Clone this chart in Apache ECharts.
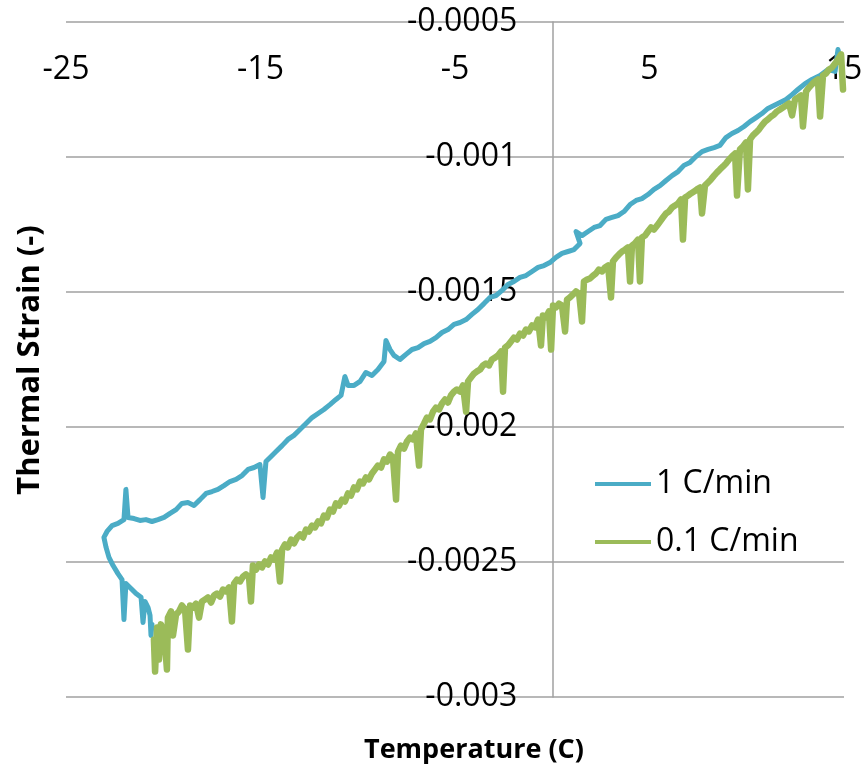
<!DOCTYPE html>
<html>
<head>
<meta charset="utf-8">
<script src="https://cdn.jsdelivr.net/npm/echarts@6/dist/echarts.min.js"></script>
<style>html,body{margin:0;padding:0;background:#fff}#chart{width:865px;height:774px}</style>
</head>
<body>
<div id="chart"></div>
<script>
// ---- data ----
var seriesNames = ['1 C/min', '0.1 C/min'];
var xTickValues = [-25, -15, -5, 5, 15];
var yTickValues = [-0.003, -0.0025, -0.002, -0.0015, -0.001, -0.0005];

var blueTemp = [14.85,14.69,14.54,14.18,13.77,13.35,13.00,12.63,12.33,12.02,11.71,11.40,11.09,10.78,10.48,10.17,9.86,9.55,9.24,8.93,8.62,8.32,8.01,7.70,7.39,7.08,6.77,6.47,6.16,5.85,5.54,5.23,4.92,4.61,4.31,4.00,3.69,3.38,3.07,2.76,2.46,2.15,1.84,1.53,1.22,1.43,1.12,0.81,0.50,0.19,-0.12,-0.42,-0.73,-1.04,-1.35,-1.66,-1.97,-2.28,-2.58,-2.89,-3.20,-3.51,-3.82,-4.13,-4.43,-4.74,-5.05,-5.36,-5.67,-5.98,-6.29,-6.59,-6.90,-7.21,-7.52,-7.83,-8.14,-8.34,-8.55,-8.65,-8.96,-9.27,-9.58,-9.88,-10.19,-10.50,-10.66,-10.86,-11.12,-11.43,-11.74,-12.04,-12.35,-12.66,-12.97,-13.28,-13.59,-13.89,-14.20,-14.51,-14.72,-14.87,-15.03,-15.33,-15.64,-15.95,-16.26,-16.57,-16.88,-17.19,-17.49,-17.80,-18.11,-18.42,-18.73,-19.04,-19.34,-19.65,-19.96,-20.27,-20.58,-20.89,-21.20,-21.50,-21.81,-21.92,-22.02,-22.33,-22.63,-22.89,-23.05,-22.94,-22.79,-22.58,-22.33,-22.12,-22.02,-21.92,-21.66,-21.40,-21.14,-21.04,-20.94,-20.78,-20.68,-20.63,-20.58];
var blueStrain = [-0.000646,-0.000602,-0.000683,-0.000676,-0.000698,-0.000713,-0.000728,-0.000750,-0.000769,-0.000787,-0.000798,-0.000809,-0.000820,-0.000839,-0.000854,-0.000869,-0.000887,-0.000902,-0.000913,-0.000928,-0.000957,-0.000965,-0.000972,-0.000980,-0.000998,-0.001020,-0.001031,-0.001054,-0.001069,-0.001087,-0.001106,-0.001120,-0.001139,-0.001154,-0.001161,-0.001176,-0.001202,-0.001217,-0.001224,-0.001231,-0.001254,-0.001261,-0.001276,-0.001291,-0.001276,-0.001320,-0.001343,-0.001350,-0.001357,-0.001372,-0.001391,-0.001402,-0.001409,-0.001424,-0.001439,-0.001446,-0.001461,-0.001472,-0.001494,-0.001513,-0.001520,-0.001543,-0.001565,-0.001583,-0.001602,-0.001613,-0.001620,-0.001639,-0.001650,-0.001669,-0.001683,-0.001691,-0.001706,-0.001713,-0.001731,-0.001750,-0.001735,-0.001713,-0.001680,-0.001757,-0.001787,-0.001809,-0.001798,-0.001831,-0.001846,-0.001846,-0.001813,-0.001883,-0.001898,-0.001917,-0.001935,-0.001950,-0.001965,-0.001987,-0.002009,-0.002031,-0.002046,-0.002069,-0.002091,-0.002113,-0.002128,-0.002261,-0.002139,-0.002150,-0.002157,-0.002180,-0.002194,-0.002202,-0.002217,-0.002231,-0.002239,-0.002246,-0.002269,-0.002291,-0.002280,-0.002283,-0.002306,-0.002320,-0.002335,-0.002343,-0.002350,-0.002343,-0.002346,-0.002339,-0.002335,-0.002231,-0.002343,-0.002357,-0.002365,-0.002387,-0.002409,-0.002446,-0.002483,-0.002513,-0.002543,-0.002565,-0.002713,-0.002580,-0.002598,-0.002617,-0.002631,-0.002724,-0.002646,-0.002669,-0.002698,-0.002772,-0.002731];

var greenTemp = [-20.48,-20.42,-20.32,-20.22,-20.12,-19.96,-19.81,-19.76,-19.60,-19.50,-19.34,-19.19,-19.04,-18.88,-18.73,-18.62,-18.47,-18.32,-18.16,-18.01,-17.85,-17.70,-17.54,-17.39,-17.24,-17.08,-16.93,-16.77,-16.62,-16.47,-16.36,-16.21,-16.05,-15.90,-15.75,-15.59,-15.49,-15.39,-15.23,-15.08,-14.92,-14.77,-14.61,-14.46,-14.31,-14.15,-14.00,-13.89,-13.74,-13.59,-13.43,-13.28,-13.12,-12.97,-12.81,-12.66,-12.51,-12.35,-12.20,-12.04,-11.89,-11.74,-11.58,-11.43,-11.27,-11.12,-10.96,-10.81,-10.66,-10.50,-10.35,-10.19,-10.04,-9.88,-9.73,-9.58,-9.42,-9.27,-9.11,-8.96,-8.80,-8.65,-8.50,-8.34,-8.19,-8.03,-7.93,-7.78,-7.62,-7.47,-7.31,-7.16,-7.01,-6.85,-6.75,-6.59,-6.44,-6.29,-6.13,-5.98,-5.82,-5.67,-5.51,-5.36,-5.21,-5.05,-4.90,-4.74,-4.59,-4.43,-4.33,-4.18,-4.02,-3.87,-3.71,-3.56,-3.41,-3.25,-3.10,-2.94,-2.79,-2.63,-2.53,-2.43,-2.28,-2.12,-1.97,-1.81,-1.66,-1.50,-1.35,-1.20,-1.04,-0.89,-0.73,-0.58,-0.48,-0.32,-0.17,-0.06,0.04,0.19,0.35,0.50,0.66,0.76,0.91,1.07,1.22,1.38,1.53,1.63,1.79,1.94,2.10,2.25,2.40,2.56,2.71,2.87,3.02,3.12,3.28,3.43,3.59,3.74,3.89,4.00,4.10,4.25,4.41,4.51,4.61,4.77,4.92,5.08,5.23,5.39,5.54,5.69,5.85,6.00,6.16,6.31,6.47,6.62,6.72,6.83,6.98,7.13,7.29,7.44,7.60,7.70,7.85,8.01,8.16,8.32,8.47,8.62,8.78,8.93,9.09,9.24,9.40,9.50,9.65,9.81,9.96,10.06,10.17,10.32,10.48,10.63,10.78,10.94,11.09,11.25,11.40,11.56,11.71,11.86,12.02,12.17,12.33,12.48,12.63,12.79,12.89,13.05,13.20,13.35,13.51,13.66,13.77,13.92,14.07,14.23,14.38,14.54,14.69,14.85,14.95];
var greenStrain = [-0.002787,-0.002906,-0.002743,-0.002861,-0.002731,-0.002757,-0.002898,-0.002706,-0.002683,-0.002772,-0.002694,-0.002683,-0.002661,-0.002676,-0.002824,-0.002661,-0.002669,-0.002654,-0.002706,-0.002646,-0.002639,-0.002631,-0.002650,-0.002624,-0.002617,-0.002628,-0.002602,-0.002609,-0.002594,-0.002720,-0.002580,-0.002565,-0.002572,-0.002554,-0.002546,-0.002557,-0.002646,-0.002513,-0.002528,-0.002509,-0.002520,-0.002498,-0.002509,-0.002483,-0.002491,-0.002465,-0.002572,-0.002454,-0.002435,-0.002446,-0.002417,-0.002431,-0.002409,-0.002398,-0.002409,-0.002380,-0.002387,-0.002365,-0.002372,-0.002350,-0.002357,-0.002328,-0.002335,-0.002306,-0.002313,-0.002283,-0.002291,-0.002269,-0.002276,-0.002246,-0.002254,-0.002224,-0.002231,-0.002202,-0.002209,-0.002187,-0.002194,-0.002172,-0.002157,-0.002143,-0.002150,-0.002120,-0.002128,-0.002102,-0.002113,-0.002269,-0.002091,-0.002069,-0.002080,-0.002054,-0.002039,-0.002046,-0.002024,-0.002143,-0.002009,-0.001987,-0.001965,-0.001972,-0.001943,-0.001928,-0.001935,-0.001913,-0.001898,-0.001909,-0.001883,-0.001869,-0.001861,-0.001869,-0.001846,-0.001943,-0.001831,-0.001817,-0.001802,-0.001794,-0.001787,-0.001772,-0.001765,-0.001772,-0.001750,-0.001743,-0.001735,-0.001720,-0.001869,-0.001706,-0.001698,-0.001683,-0.001669,-0.001676,-0.001654,-0.001661,-0.001639,-0.001646,-0.001624,-0.001631,-0.001602,-0.001698,-0.001587,-0.001594,-0.001572,-0.001713,-0.001550,-0.001557,-0.001543,-0.001550,-0.001646,-0.001528,-0.001520,-0.001509,-0.001498,-0.001506,-0.001609,-0.001461,-0.001454,-0.001450,-0.001439,-0.001431,-0.001417,-0.001424,-0.001409,-0.001402,-0.001520,-0.001387,-0.001372,-0.001361,-0.001350,-0.001343,-0.001335,-0.001461,-0.001328,-0.001320,-0.001306,-0.001461,-0.001298,-0.001291,-0.001276,-0.001261,-0.001269,-0.001254,-0.001239,-0.001224,-0.001209,-0.001202,-0.001187,-0.001180,-0.001172,-0.001157,-0.001306,-0.001150,-0.001143,-0.001135,-0.001128,-0.001120,-0.001113,-0.001209,-0.001106,-0.001094,-0.001083,-0.001069,-0.001057,-0.001046,-0.001035,-0.001024,-0.001009,-0.000998,-0.000987,-0.001143,-0.000972,-0.000961,-0.000946,-0.001120,-0.000935,-0.000920,-0.000909,-0.000898,-0.000883,-0.000869,-0.000861,-0.000850,-0.000843,-0.000831,-0.000824,-0.000817,-0.000809,-0.000802,-0.000846,-0.000787,-0.000780,-0.000772,-0.000887,-0.000757,-0.000743,-0.000731,-0.000720,-0.000713,-0.000850,-0.000698,-0.000691,-0.000676,-0.000669,-0.000654,-0.000639,-0.000620,-0.000750];

function zip(a, b) { var out = []; for (var i = 0; i < a.length; i++) out.push([a[i], b[i]]); return out; }

var FONT = '"Open Sans", "Liberation Sans", sans-serif';
var GRID = '#a0a0a0';
var chart = echarts.init(document.getElementById('chart'));
chart.setOption({
  animation: false,
  backgroundColor: '#ffffff',
  grid: { left: 66, right: 21, top: 22, bottom: 77, containLabel: false, outerBoundsMode: 'none' },
  xAxis: {
    type: 'value', min: -25, max: 15, position: 'top',
    axisLine: { show: false }, axisTick: { show: false }, splitLine: { show: false },
    axisLabel: { customValues: xTickValues, inside: true, margin: 32, fontSize: 32, color: '#000', fontFamily: FONT }
  },
  yAxis: {
    type: 'value', min: -0.003, max: -0.0005, interval: 0.0005, position: 'left', offset: -486.25,
    axisLine: { show: true, onZero: false, lineStyle: { color: GRID, width: 1.5 } },
    axisTick: { show: false },
    splitLine: { show: true, lineStyle: { color: GRID, width: 1.5 } },
    axisLabel: { margin: 35, fontSize: 32, color: '#000', fontFamily: FONT,
      formatter: function (v) { return String(parseFloat(v.toFixed(4))); } }
  },
  legend: {
    orient: 'vertical', left: 590, top: 459, icon: 'rect', itemWidth: 56, itemHeight: 4, itemGap: 18,
    textStyle: { fontSize: 32, color: '#000', fontFamily: FONT, lineHeight: 40 },
    data: seriesNames
  },
  series: [
    { name: seriesNames[0], type: 'line', data: zip(blueTemp, blueStrain), showSymbol: false, symbol: 'none',
      lineStyle: { color: '#4bacc6', width: 5, join: 'round', cap: 'round' }, itemStyle: { color: '#4bacc6' } },
    { name: seriesNames[1], type: 'line', data: zip(greenTemp, greenStrain), showSymbol: false, symbol: 'none',
      lineStyle: { color: '#9bbb59', width: 6.5, join: 'round', cap: 'round' }, itemStyle: { color: '#9bbb59' } }
  ],
  graphic: [
    { type: 'text', left: 470 - 106, top: 737, style: { text: 'Temperature (C)', fontSize: 27, fontWeight: 'bold', fontFamily: FONT, fill: '#000' } },
    { type: 'text', x: 30, y: 360, rotation: Math.PI / 2, style: { text: 'Thermal Strain (-)', fontSize: 31, fontWeight: 'bold', fontFamily: FONT, fill: '#000', align: 'center', verticalAlign: 'middle' } }
  ]
});
</script>
</body>
</html>
